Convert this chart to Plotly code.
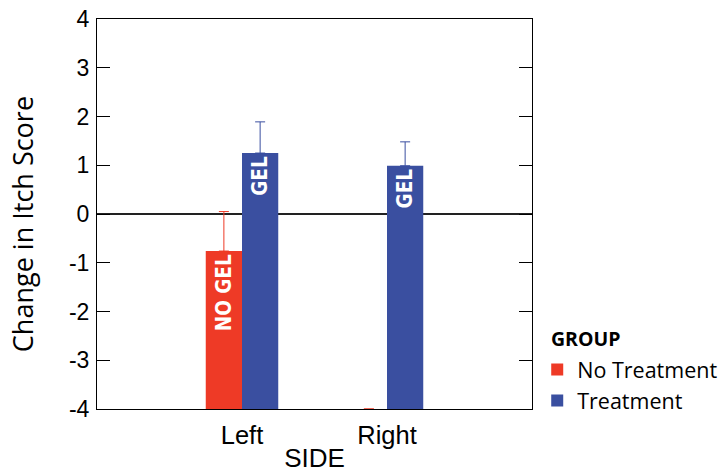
import plotly.graph_objects as go

sides = ["Left", "Right"]
groups = ["No Treatment", "Treatment"]
no_treat_vals = [-0.76, -4.0]
no_treat_err_hi = [0.05, -4.0]
treat_vals = [1.25, 0.99]
treat_err_hi = [1.89, 1.48]
bar_labels_nt = ["NO GEL", ""]
bar_labels_t = ["GEL", "GEL"]
y_ticks = [-4, -3, -2, -1, 0, 1, 2, 3, 4]
y_tick_text = ["-4", "-3", "-2", "-1", "0", "1", "2", "3", "4"]

BASE = -4
RED = "#EE3A26"
BLUE = "#3A4FA0"

def trace(name, vals, hi, labels, color):
    return go.Bar(
        name=name, x=sides, y=[v - BASE for v in vals], base=BASE,
        marker=dict(color=color, line=dict(width=0)),
        text=labels, textposition="inside", insidetextanchor="end",
        textangle=-90, cliponaxis=False,
        textfont=dict(family="DejaVu Sans Condensed", size=20.5, color="white", weight="bold"),
        error_y=dict(type="data", symmetric=False,
                     array=[h - v for h, v in zip(hi, vals)],
                     arrayminus=[0 for _ in vals],
                     color=color, thickness=1, width=5),
        hoverinfo="skip",
    )

fig = go.Figure([
    trace(groups[0], no_treat_vals, no_treat_err_hi, bar_labels_nt, RED),
    trace(groups[1], treat_vals, treat_err_hi, bar_labels_t, BLUE),
])

fig.update_layout(
    width=728, height=473,
    margin=dict(l=97, r=196, t=19, b=64, autoexpand=False),
    paper_bgcolor="white", plot_bgcolor="white",
    barmode="group", bargap=0.5, bargroupgap=0,
    font=dict(family="Liberation Sans", color="black", size=24),
    uniformtext=dict(minsize=10, mode="show"),
    showlegend=True,
    legend=dict(x=1.012, y=0.0615, xanchor="left", yanchor="middle",
                font=dict(family="Open Sans", size=21.5),
                itemwidth=30, tracegroupgap=0),
    annotations=[
        dict(text="<b>GROUP</b>", xref="paper", yref="paper",
             x=1.048, xshift=-4, y=0.182, xanchor="left", yanchor="middle",
             showarrow=False, font=dict(family="Open Sans", size=19.5)),
        dict(text="Change in Itch Score", xref="paper", yref="paper",
             x=0, xshift=-75, y=0.474, xanchor="center", yanchor="middle",
             textangle=-90, showarrow=False,
             font=dict(family="Open Sans", size=27)),
    ],
    xaxis=dict(type="category", range=[-1, 2], showline=True, linecolor="black",
               linewidth=1, mirror=True, ticks="", showgrid=False, automargin=False,
               title=dict(text="SIDE", standoff=1, font=dict(size=26)),
               tickfont=dict(size=25.5), ticklabelstandoff=3),
    yaxis=dict(range=[-4, 4], tickvals=y_ticks, ticktext=y_tick_text, showline=True,
               linecolor="black", automargin=False, ticklabeloverflow="allow",
               linewidth=1, mirror="allticks", ticks="inside", ticklen=13,
               tickcolor="black", showgrid=False, ticklabelstandoff=2,
               zeroline=True, zerolinecolor="#222", zerolinewidth=1.5,
               tickfont=dict(size=23)),
)

fig.write_html("out.html", config={"displayModeBar": False},
               post_script="document.body.style.margin='0';")
